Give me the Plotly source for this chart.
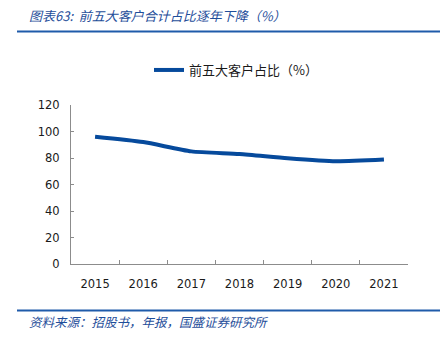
import plotly.graph_objects as go

years = ["2015", "2016", "2017", "2018", "2019", "2020", "2021"]
share = [96, 92, 85, 83, 79.8, 77.5, 78.8]
series_name = "前五大客户占比（%）"
title_text = "图表63:  前五大客户合计占比逐年下降（%）"
source_text = "资料来源：招股书，年报，国盛证券研究所"

W, H = 445, 337
L, R, T, B = 71, 408, 105, 264  # plot area in pixels

def px(x):
    return (x - L) / (R - L)

def py(y):
    return (B - y) / (B - T)

grey = "#8C8C8C"

fig = go.Figure()
fig.add_trace(go.Scatter(
    x=years, y=share, mode="lines", name=series_name,
    line=dict(color="#064A9C", width=4, shape="spline", smoothing=0.6),
))

tickfont = dict(family="DejaVu Sans, Verdana, sans-serif", size=11.5, color="#1a1a1a")

fig.update_layout(
    width=W, height=H,
    margin=dict(l=L, r=W - R, t=T, b=H - B),
    plot_bgcolor="white", paper_bgcolor="white",
    showlegend=True,
    legend=dict(
        x=px(149), y=py(70), xanchor="left", yanchor="middle",
        orientation="h", itemwidth=30,
        font=dict(family="Noto Sans CJK SC", size=13, color="#1a1a1a"),
        bgcolor="rgba(0,0,0,0)",
    ),
    xaxis=dict(
        type="category", range=[-0.5, 6.5], showline=True, linecolor=grey, linewidth=1,
        ticks="inside", tickson="boundaries", ticklen=4, tickcolor=grey,
        tickfont=tickfont, showgrid=False, zeroline=False, ticklabelstandoff=9,
    ),
    yaxis=dict(
        range=[0, 120], dtick=20, showline=True, linecolor=grey, linewidth=1,
        ticks="inside", ticklen=3, tickcolor=grey, tickfont=tickfont,
        showgrid=False, zeroline=False, ticklabelstandoff=8,
    ),
)

fig.add_annotation(
    x=px(27), y=py(16), xref="paper", yref="paper", xanchor="left", yanchor="middle",
    text="<i>" + title_text + "</i>", showarrow=False,
    font=dict(family="Noto Sans CJK SC", size=13, color="#1F4E9A"),
)
fig.add_annotation(
    x=px(27), y=py(321), xref="paper", yref="paper", xanchor="left", yanchor="middle",
    text="<i>" + source_text + "</i>", showarrow=False,
    font=dict(family="Noto Sans CJK SC", size=12.5, color="#1F4E9A"),
)
fig.add_shape(type="line", xref="paper", yref="paper",
              x0=px(17), x1=px(440), y0=py(31.5), y1=py(31.5),
              line=dict(color="#1F5BAA", width=2))
fig.add_shape(type="line", xref="paper", yref="paper",
              x0=px(17), x1=px(440), y0=py(310.5), y1=py(310.5),
              line=dict(color="#1F5BAA", width=2))

fig.write_html("out.html")
